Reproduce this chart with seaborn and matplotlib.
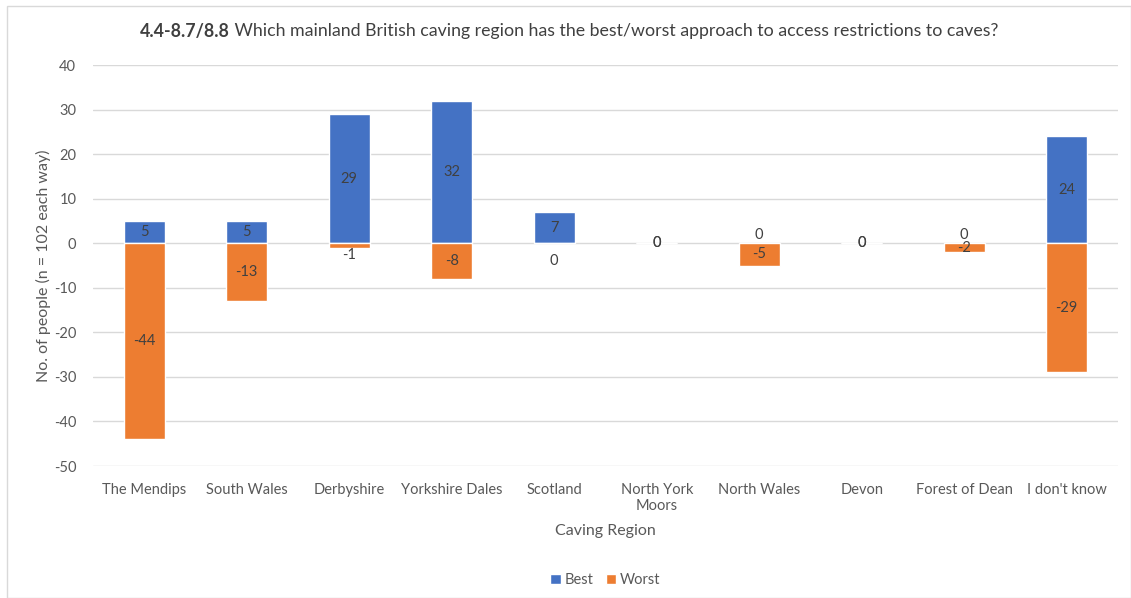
import numpy as np
import pandas as pd
import matplotlib
matplotlib.use('Agg')
import matplotlib.pyplot as plt
import seaborn as sns
from matplotlib.patches import Rectangle

regions = ['The Mendips', 'South Wales', 'Derbyshire', 'Yorkshire Dales', 'Scotland',
           'North York\nMoors', 'North Wales', 'Devon', 'Forest of Dean', "I don't know"]
best = [5, 5, 29, 32, 7, 0, 0, 0, 0, 24]
worst = [-44, -13, -1, -8, 0, 0, -5, 0, -2, -29]
series = ['Best', 'Worst']
colors = ['#4472C4', '#ED7D31']

sns.set_style('white')
plt.rcParams['font.family'] = ['Lato', 'DejaVu Sans']
plt.rcParams['axes.unicode_minus'] = False

df = pd.DataFrame({
    'region': regions * 2,
    'value': best + worst,
    'series': ['Best'] * len(regions) + ['Worst'] * len(regions),
})

fig = plt.figure(figsize=(11.31, 5.98), dpi=100)
ax = fig.add_axes([0.0822, 0.2207, 0.9063, 0.6706])

sns.barplot(data=df, x='region', y='value', hue='series', dodge=False,
            palette=dict(zip(series, colors)), width=0.4, saturation=1, ax=ax, zorder=3)

ax.set_ylim(-50, 40)
ax.set_yticks(range(-50, 41, 10))
ax.set_xlim(-0.5, len(regions) - 0.5)
ax.grid(axis='y', color='#d9d9d9', linewidth=1, zorder=0)
for s in ax.spines.values():
    s.set_visible(False)
ax.tick_params(axis='both', length=0, labelsize=10.5, colors='#595959')
ax.tick_params(axis='x', pad=12)
ax.tick_params(axis='y', pad=12)
ax.set_xlabel('Caving Region', fontsize=11.5, color='#595959', labelpad=8)
ax.set_ylabel('No. of people (n = 102 each way)', fontsize=11.5, color='#595959', labelpad=2)

# value labels
for i in range(len(regions)):
    b, w = best[i], worst[i]
    if b != 0:
        ax.text(i, b / 2, str(b), ha='center', va='center', fontsize=10.5, color='#404040', zorder=5)
    else:
        off = 0 if w == 0 else 6
        ax.annotate('0', (i, 0), xytext=(0, off), textcoords='offset points',
                    ha='center', va='center', fontsize=10.5, color='#404040', zorder=5)
    if w == 0:
        off = 0 if b == 0 else -13
        ax.annotate('0', (i, 0), xytext=(0, off), textcoords='offset points',
                    ha='center', va='center', fontsize=10.5, color='#404040', zorder=5)
    elif abs(w) <= 1:
        ax.annotate(str(w), (i, w), xytext=(0, -5), textcoords='offset points',
                    ha='center', va='center', fontsize=10.5, color='#404040', zorder=5)
    else:
        ax.text(i, w / 2, str(w), ha='center', va='center', fontsize=10.5, color='#404040', zorder=5)

leg = ax.legend(loc='center', bbox_to_anchor=(0.5, -0.284), ncol=2, frameon=False,
                fontsize=10.5, handlelength=0.7, handleheight=0.7, handletextpad=0.3,
                columnspacing=0.8)
for t in leg.get_texts():
    t.set_color('#595959')

t1 = fig.text(140 / 1131, 1 - 31 / 598, '4.4-8.7/8.8', fontsize=12.8, fontweight='bold',
              color='#404040', ha='left', va='center')
ax.annotate(' Which mainland British caving region has the best/worst approach to access restrictions to caves?',
            xy=(1, 0.5), xycoords=t1, ha='left', va='center', fontsize=12.8, color='#404040',
            annotation_clip=False)

fig.patches.append(Rectangle((7 / 1131, 0), 1 - 7 / 1131, 1 - 6 / 598, transform=fig.transFigure,
                             fill=False, edgecolor='#d9d9d9', linewidth=1))

plt.savefig('out.png', dpi=100)
plt.close()
